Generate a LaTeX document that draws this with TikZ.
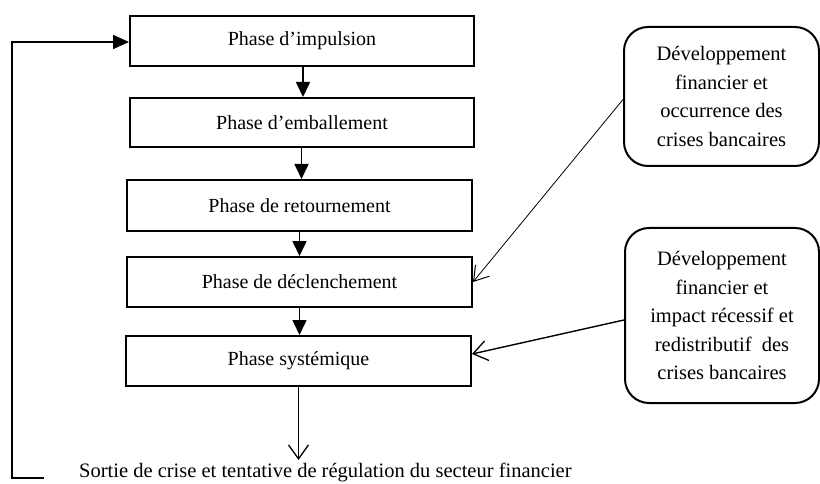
\documentclass[tikz,border=0pt]{standalone}
\usepackage{fontspec}
\setmainfont{Liberation Serif}
\usetikzlibrary{arrows.meta}
\begin{document}
\begin{tikzpicture}[x=1pt,y=-1pt,
  phasebox/.style={draw,line width=2pt,rectangle,inner sep=0pt,minimum width=345pt,minimum height=50pt,font=\fontsize{20}{24}\selectfont},
  roundbox/.style={draw,line width=2pt,rectangle,rounded corners=24pt,inner sep=0pt,align=center,font=\fontsize{20.5}{28.5}\selectfont},
  filledarrow/.style={line width=1.6pt,-{Triangle[width=14pt,length=15pt]}},
  openarrow/.style={-{Straight Barb[length=14pt,width=20pt,line width=1.3pt]}},
]
\useasboundingbox (0,0) rectangle (820,484);
\node[phasebox,minimum width=344pt] (b1) at (302,41) {Phase d’impulsion};
\node[phasebox,minimum width=344pt,minimum height=49pt] (b2) at (302,122.5) {Phase d’emballement};
\node[phasebox,minimum height=51pt] (b3) at (299.5,205.5) {Phase de retournement};
\node[phasebox] (b4) at (299.5,282) {Phase de déclenchement};
\node[phasebox] (b5) at (298.5,361) {Phase systémique};
\node[roundbox,minimum width=195pt,minimum height=139pt] (r1) at (721.5,96.5) {Développement\\financier et\\occurrence des\\crises bancaires};
\node[roundbox,minimum width=194pt,minimum height=175pt] (r2) at (722,315.5) {Développement\\financier et\\impact récessif et\\redistributif~ des\\crises bancaires};
\node[anchor=base west,inner sep=0pt,font=\fontsize{20.5}{24}\selectfont] (sortie) at (79,477) {Sortie de crise et tentative de régulation du secteur financier};
\coordinate (exit) at (298.5,460);
\coordinate (fb) at (44,478);
\coordinate (corner) at (12,478);
\draw[filledarrow] ([xshift=1pt]b1.south) -- ([xshift=1pt]b1.south |- b2.north);
\draw[filledarrow] ([xshift=-0.5pt]b2.south) -- ([xshift=-0.5pt]b2.south |- b3.north);
\draw[filledarrow] (b3.south) -- (b3.south |- b4.north);
\draw[filledarrow] (b4.south) -- (b4.south |- b5.north);
\draw[line width=1.5pt,openarrow] (b5.south) -- (exit);
\draw[line width=0.8pt,-{Straight Barb[length=14pt,width=18pt,line width=1pt]}] ([yshift=-3pt]r1.west) -- (b4.east);
\draw[line width=1.4pt,openarrow] ([yshift=-4.5pt]r2.west) -- ([yshift=7pt]b5.east);
\draw[line width=1.6pt,-{Triangle[width=14pt,length=16pt]}] (fb) -- (corner) |- ([yshift=-1pt]b1.west);
\end{tikzpicture}
\end{document}
